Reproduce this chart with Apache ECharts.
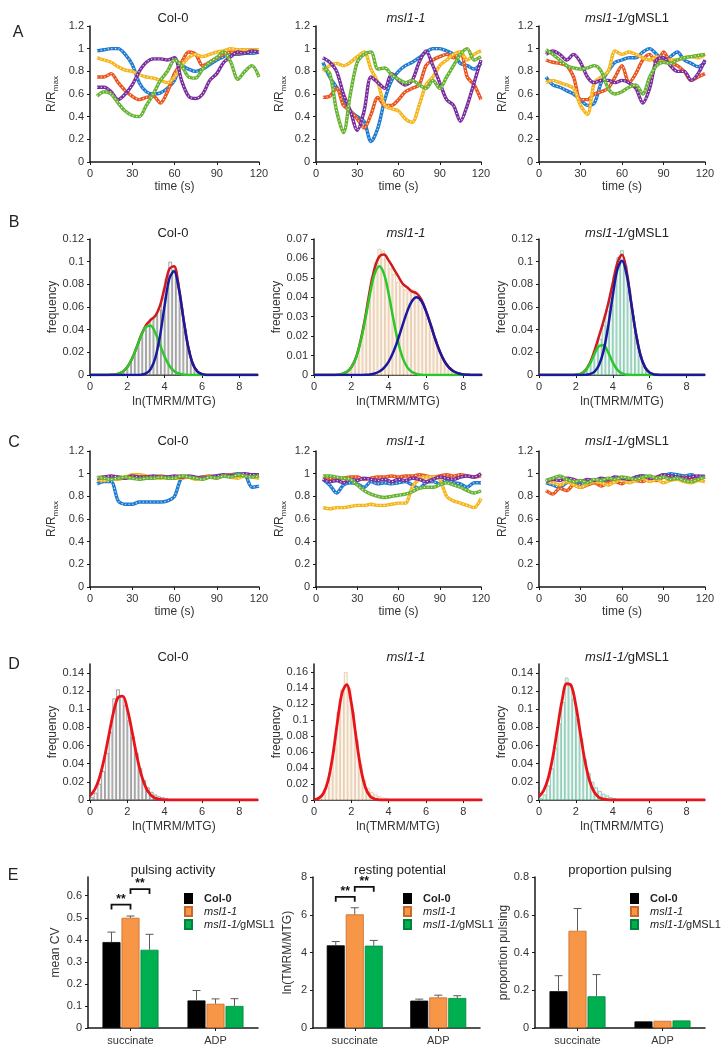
<!DOCTYPE html>
<html><head><meta charset="utf-8">
<script src="https://cdn.jsdelivr.net/npm/echarts@6/dist/echarts.min.js"></script>
<style>html,body{margin:0;padding:0;background:#fff}#c{width:725px;height:1050px}</style>
</head><body><div id="c"></div>
<script>
// ---------------- DATA ----------------
const timeA = [5,10,15,20,25,30,35,40,45,50,55,60,65,70,75,80,85,90,95,100,105,110,115,120];
const traceNames = ['blue','orange','yellow','purple','green'];

// Panel A: succinate traces (R/Rmax)
const aCol0Blue   = [0.98,0.99,1.00,1.00,0.95,0.86,0.70,0.62,0.60,0.61,0.65,0.72,0.85,0.82,0.80,0.82,0.86,0.90,0.93,0.95,0.95,0.96,0.96,0.97];
const aCol0Orange = [0.75,0.75,0.78,0.70,0.63,0.58,0.55,0.57,0.58,0.52,0.62,0.78,0.88,0.97,0.95,0.85,0.88,0.92,0.95,0.97,0.96,0.97,0.98,0.98];
const aCol0Yellow = [0.92,0.90,0.88,0.84,0.81,0.80,0.77,0.75,0.74,0.72,0.70,0.75,0.85,0.92,0.95,0.93,0.95,0.97,0.98,1.00,0.99,0.99,0.99,0.99];
const aCol0Purple = [0.66,0.66,0.62,0.55,0.60,0.68,0.80,0.88,0.91,0.91,0.90,0.92,0.72,0.58,0.56,0.60,0.72,0.78,0.88,0.93,0.97,0.96,0.98,0.97];
const aCol0Green  = [0.58,0.62,0.60,0.52,0.45,0.41,0.40,0.50,0.60,0.72,0.80,0.90,0.85,0.75,0.74,0.82,0.88,0.92,0.97,0.88,0.73,0.80,0.85,0.75];

const aMslBlue   = [0.88,0.75,0.66,0.56,0.45,0.40,0.36,0.18,0.30,0.55,0.72,0.80,0.85,0.88,0.92,0.97,1.00,1.00,0.98,0.95,0.87,0.85,0.82,0.87];
const aMslOrange = [0.57,0.58,0.65,0.50,0.45,0.38,0.30,0.42,0.57,0.50,0.50,0.55,0.62,0.65,0.68,0.85,0.90,0.93,0.95,0.92,0.97,0.75,0.68,0.55];
const aMslYellow = [0.80,0.85,0.87,0.85,0.88,0.93,0.97,0.82,0.70,0.50,0.47,0.45,0.38,0.35,0.50,0.68,0.75,0.85,0.90,0.95,0.97,0.90,0.95,0.98];
const aMslPurple = [0.92,0.88,0.80,0.60,0.45,0.28,0.45,0.75,0.70,0.65,0.78,0.72,0.68,0.72,0.88,0.98,0.85,0.70,0.55,0.50,0.36,0.50,0.70,0.90];
const aMslGreen  = [0.84,0.78,0.45,0.26,0.60,0.88,0.95,0.97,0.82,0.83,0.77,0.73,0.70,0.72,0.68,0.65,0.72,0.65,0.75,0.85,0.95,1.00,0.90,0.93];

const aGBlue   = [0.75,0.68,0.66,0.63,0.60,0.55,0.50,0.52,0.70,0.80,0.88,0.90,0.92,0.92,0.97,1.00,0.95,0.90,0.93,0.97,0.90,0.87,0.84,0.88];
const aGOrange = [0.90,0.88,0.87,0.85,0.75,0.55,0.55,0.60,0.62,0.65,0.75,0.85,0.70,0.78,0.90,0.95,0.87,0.97,0.88,0.85,0.80,0.72,0.75,0.78];
const aGYellow = [0.70,0.72,0.70,0.68,0.65,0.50,0.42,0.70,0.75,0.80,0.98,0.95,0.97,0.95,0.92,0.90,0.93,0.88,0.90,0.90,0.92,0.93,0.92,0.95];
const aGPurple = [0.95,0.98,0.95,0.90,0.95,0.88,0.75,0.70,0.72,0.72,0.70,0.72,0.70,0.65,0.52,0.65,0.90,0.92,0.85,0.80,0.80,0.72,0.78,0.90];
const aGGreen  = [0.99,0.95,0.90,0.85,0.83,0.82,0.83,0.85,0.80,0.65,0.60,0.62,0.66,0.68,0.60,0.75,0.85,0.88,0.87,0.90,0.92,0.93,0.94,0.95];

// Panel C: ADP traces (R/Rmax)
const cCol0Blue   = [0.91,0.93,0.93,0.76,0.73,0.73,0.75,0.75,0.75,0.75,0.76,0.80,0.96,0.97,0.96,0.97,0.97,0.98,0.98,0.99,1.00,0.99,0.88,0.89];
const cCol0Orange = [0.96,0.97,0.96,0.97,0.96,0.97,0.98,0.97,0.97,0.98,0.97,0.97,0.98,0.97,0.96,0.97,0.98,0.97,0.98,0.99,0.98,0.99,0.98,0.98];
const cCol0Yellow = [0.95,0.94,0.96,0.95,0.97,0.99,0.99,0.98,0.97,0.96,0.97,0.96,0.96,0.97,0.95,0.96,0.97,0.96,0.98,0.97,0.96,0.98,0.97,0.96];
const cCol0Purple = [0.96,0.97,0.98,0.97,0.96,0.98,0.97,0.97,0.98,0.97,0.97,0.98,0.97,0.98,0.97,0.96,0.97,0.98,0.99,0.98,0.99,1.00,0.99,0.99];
const cCol0Green  = [0.97,0.96,0.95,0.96,0.97,0.96,0.95,0.96,0.96,0.97,0.96,0.96,0.98,0.97,0.96,0.95,0.97,0.96,0.98,0.97,0.99,0.98,0.97,0.98];

const cMslBlue   = [0.95,0.90,0.83,0.90,0.92,0.91,0.88,0.93,0.91,0.92,0.91,0.92,0.93,0.90,0.87,0.92,0.93,0.91,0.95,0.92,0.91,0.88,0.92,0.92];
const cMslOrange = [0.97,0.96,0.95,0.96,0.97,0.97,0.95,0.96,0.97,0.97,0.98,0.97,0.98,0.98,0.99,0.98,0.97,0.98,0.99,0.98,0.99,0.98,0.97,0.98];
const cMslYellow = [0.70,0.69,0.70,0.70,0.71,0.72,0.72,0.73,0.72,0.72,0.73,0.74,0.74,0.88,0.95,0.97,0.97,0.95,0.80,0.76,0.74,0.72,0.70,0.78];
const cMslPurple = [0.95,0.93,0.94,0.92,0.95,0.94,0.96,0.95,0.94,0.95,0.93,0.95,0.94,0.96,0.95,0.93,0.95,0.97,0.96,0.95,0.97,0.98,0.97,1.00];
const cMslGreen  = [0.98,0.98,0.97,0.96,0.95,0.90,0.85,0.82,0.80,0.79,0.80,0.81,0.82,0.84,0.87,0.88,0.88,0.90,0.92,0.90,0.88,0.85,0.83,0.85];

const cGBlue   = [0.92,0.90,0.88,0.92,0.93,0.90,0.94,0.93,0.92,0.95,0.96,0.95,0.94,0.97,0.98,0.97,0.96,0.98,1.00,0.99,0.98,0.99,0.97,0.98];
const cGOrange = [0.85,0.82,0.87,0.85,0.90,0.88,0.90,0.92,0.89,0.92,0.93,0.91,0.95,0.94,0.93,0.96,0.94,0.97,0.98,0.96,0.97,0.95,0.96,0.97];
const cGYellow = [0.93,0.92,0.90,0.93,0.90,0.88,0.91,0.93,0.92,0.90,0.93,0.95,0.92,0.94,0.96,0.93,0.95,0.92,0.94,0.95,0.93,0.92,0.94,0.93];
const cGPurple = [0.93,0.95,0.94,0.96,0.95,0.93,0.95,0.94,0.96,0.95,0.97,0.96,0.95,0.97,0.98,0.96,0.97,0.99,0.98,0.97,0.96,0.97,0.98,0.97];
const cGGreen  = [0.94,0.96,0.98,0.95,0.93,0.94,0.92,0.95,0.94,0.96,0.95,0.97,0.96,0.95,0.97,0.98,0.96,0.97,0.95,0.96,0.94,0.93,0.95,0.97];

// Histograms (bin centres, frequency)
const bBins = [0.1,0.3,0.5,0.7,0.9,1.1,1.3,1.5,1.7,1.9,2.1,2.3,2.5,2.7,2.9,3.1,3.3,3.5,3.7,3.9,4.1,4.3,4.5,4.7,4.9,5.1,5.3,5.5,5.7,5.9,6.1,6.3,6.5,6.7,6.9,7.1,7.3,7.5,7.7,7.9,8.1,8.3,8.5,8.7,8.9];
const bCol0Hist = [0,0,0,0,0,0,0.001,0.002,0.003,0.005,0.009,0.016,0.024,0.033,0.040,0.046,0.050,0.053,0.058,0.068,0.085,0.100,0.093,0.082,0.060,0.040,0.022,0.010,0.005,0.002,0.001,0,0,0,0,0,0,0,0,0,0,0,0,0,0];
const bMslHist  = [0,0,0,0,0,0,0.0005,0.001,0.002,0.003,0.006,0.010,0.016,0.026,0.038,0.050,0.058,0.065,0.064,0.060,0.055,0.052,0.048,0.046,0.044,0.043,0.044,0.042,0.039,0.035,0.030,0.025,0.019,0.013,0.009,0.006,0.004,0.002,0.001,0.0005,0,0,0,0,0];
const bGHist    = [0,0,0,0,0,0,0,0,0,0,0.001,0.002,0.004,0.009,0.015,0.023,0.032,0.044,0.057,0.072,0.088,0.104,0.110,0.097,0.075,0.052,0.032,0.017,0.008,0.003,0.001,0,0,0,0,0,0,0,0,0,0,0,0,0,0];

// Fitted curves, sampled on curveX
const curveX = [0,0.25,0.5,0.75,1,1.25,1.5,1.75,2,2.25,2.5,2.75,3,3.25,3.5,3.75,4,4.25,4.5,4.75,5,5.25,5.5,5.75,6,6.25,6.5,6.75,7,7.25,7.5,7.75,8,8.25,8.5,8.75,9];
const bCol0Red   = [0,0,0,0,0.0001,0.0003,0.001,0.0029,0.007,0.0143,0.0245,0.0355,0.044,0.0486,0.0522,0.0612,0.0775,0.0935,0.096,0.0782,0.0506,0.0257,0.0101,0.0031,0.0008,0.0001,0,0,0,0,0,0,0,0,0,0,0];
const bCol0Green = [0,0,0,0,0.0001,0.0003,0.001,0.0029,0.007,0.0143,0.0245,0.0352,0.0426,0.0434,0.0371,0.0267,0.0161,0.0082,0.0035,0.0013,0.0004,0.0001,0,0,0,0,0,0,0,0,0,0,0,0,0,0,0];
const bCol0Blue  = [0,0,0,0,0,0,0,0,0,0,0,0.0003,0.0014,0.0052,0.0151,0.0345,0.0614,0.0849,0.0915,0.0769,0.0502,0.0256,0.0101,0.0031,0.0008,0.0001,0,0,0,0,0,0,0,0,0,0,0];
const bMslRed    = [0,0,0,0,0,0.0001,0.0005,0.0015,0.004,0.009,0.018,0.030,0.044,0.055,0.061,0.062,0.059,0.055,0.051,0.047,0.045,0.043,0.042,0.039,0.033,0.026,0.0183,0.0118,0.0069,0.0037,0.0018,0.0008,0.0003,0.0001,0,0,0];
const bMslGreen  = [0,0,0,0,0,0.0001,0.0005,0.0015,0.0039,0.0088,0.0172,0.0288,0.0417,0.052,0.056,0.052,0.0417,0.0288,0.0172,0.0088,0.0039,0.0015,0.0005,0.0001,0,0,0,0,0,0,0,0,0,0,0,0,0];
const bMslBlue   = [0,0,0,0,0,0,0,0,0,0,0,0.0001,0.0003,0.0008,0.0018,0.0037,0.0069,0.0118,0.0183,0.0258,0.0329,0.0381,0.040,0.0381,0.0329,0.0258,0.0183,0.0118,0.0069,0.0037,0.0018,0.0008,0.0003,0.0001,0,0,0];
const bGRed      = [0,0,0,0,0,0,0,0,0.0002,0.001,0.0039,0.0103,0.021,0.0341,0.0476,0.0629,0.0812,0.099,0.106,0.092,0.0636,0.037,0.0175,0.0067,0.0021,0.0005,0.0001,0,0,0,0,0,0,0,0,0,0];
const bGGreen    = [0,0,0,0,0,0,0,0,0.0002,0.001,0.0037,0.0095,0.0182,0.0255,0.0263,0.020,0.0111,0.0045,0.0014,0.0003,0.0001,0,0,0,0,0,0,0,0,0,0,0,0,0,0,0,0];
const bGBlue     = [0,0,0,0,0,0,0,0,0,0,0.0002,0.0008,0.0028,0.0086,0.0213,0.0429,0.0701,0.0932,0.1008,0.0887,0.0635,0.037,0.0175,0.0067,0.0021,0.0005,0.0001,0,0,0,0,0,0,0,0,0,0];

const dBins = [0.1,0.3,0.5,0.7,0.9,1.1,1.3,1.5,1.7,1.9,2.1,2.3,2.5,2.7,2.9,3.1,3.3,3.5,3.7,3.9,4.1,4.3];
const dCol0Hist = [0.003,0.008,0.018,0.032,0.052,0.075,0.112,0.122,0.115,0.105,0.088,0.070,0.052,0.035,0.022,0.014,0.009,0.006,0.004,0.003,0.002,0.001];
const dMslHist  = [0.001,0.003,0.007,0.018,0.035,0.065,0.110,0.138,0.160,0.140,0.110,0.075,0.045,0.025,0.015,0.010,0.007,0.005,0.003,0.002,0.001,0];
const dGHist    = [0.002,0.006,0.016,0.035,0.058,0.085,0.108,0.135,0.128,0.112,0.090,0.068,0.045,0.030,0.020,0.014,0.010,0.007,0.005,0.003,0.002,0.001];
const dCol0Red = [0.0046,0.0114,0.0242,0.0445,0.0704,0.096,0.113,0.1146,0.1003,0.0758,0.0493,0.0277,0.0134,0.0056,0.002,0.0006,0.0002,0,0,0,0,0,0,0,0,0,0,0,0,0,0,0,0,0,0,0,0];
const dMslRed  = [0.0004,0.0022,0.0081,0.0239,0.0544,0.0967,0.1338,0.1443,0.1211,0.0792,0.0403,0.016,0.0049,0.0012,0.0002,0,0,0,0,0,0,0,0,0,0,0,0,0,0,0,0,0,0,0,0,0,0];
const dGRed    = [0.0037,0.0103,0.0242,0.0477,0.0788,0.1097,0.1282,0.126,0.1041,0.0723,0.0422,0.0207,0.0085,0.003,0.0009,0.0002,0,0,0,0,0,0,0,0,0,0,0,0,0,0,0,0,0,0,0,0,0];

// Panel E: bar summaries
const eGroups = ['succinate','ADP'];
const genotypes = ['Col-0','msl1-1','msl1-1/gMSL1'];
const pulsingMean = [[0.39,0.125],[0.50,0.11],[0.355,0.10]];
const pulsingErr  = [[0.045,0.045],[0.008,0.022],[0.07,0.033]];
const restingMean = [[4.38,1.45],[6.02,1.62],[4.36,1.59]];
const restingErr  = [[0.2,0.08],[0.35,0.12],[0.28,0.12]];
const propMean    = [[0.195,0.035],[0.515,0.038],[0.168,0.04]];
const propErr     = [[0.082,0],[0.118,0],[0.115,0]];
const pulsingSig  = [[0,0,1,0.56],[0,1,2,0.63]];   // [group, fromBar, toBar, level]
const restingSig  = [[0,0,1,6.95],[0,1,2,7.48]];

// ---------------- STYLE ----------------
const FONT = '"Liberation Sans", Arial, sans-serif';
const traceColors = {blue:'#1f7bd0', orange:'#e9541f', yellow:'#f5b51d', purple:'#7a2e9d', green:'#67b332'};
const barFill = ['#000000','#f79646','#00b050'];
const barBorder = ['#000000','#c8692c','#00813c'];
const barOffsets = [-19, 0, 19];

const grids = [], xAxes = [], yAxes = [], series = [], graphics = [], legends = [];
const axisLine = {show:true, onZero:false, lineStyle:{color:'#1a1a1a', width:1.5}};
const axisTick = {show:true, length:3, lineStyle:{color:'#1a1a1a', width:1}};
const lbl = {color:'#333', fontSize:11, fontFamily:FONT, margin:6};
const nameStyle = {color:'#333', fontSize:12, fontFamily:FONT};
const rRich = {rich:{a:{fontSize:12, color:'#333', fontFamily:FONT, lineHeight:16, verticalAlign:'middle'},
                     s:{fontSize:8, color:'#333', fontFamily:FONT, lineHeight:8, verticalAlign:'bottom'}}};

function addGrid(left, top, width, height){ grids.push({left, top, width, height}); return grids.length - 1; }

function titleText(x, y, kind, size){
  size = size || 13;
  let text;
  if (kind === 'Col-0') text = '{n|Col-0}';
  else if (kind === 'msl1-1') text = '{i|msl1-1}';
  else if (kind === 'msl1-1/gMSL1') text = '{i|msl1-1/}{n|gMSL1}';
  else text = '{n|' + kind + '}';
  graphics.push({type:'text', x, y, z:100, style:{text, align:'center', verticalAlign:'middle',
    rich:{n:{fontSize:size, fontFamily:FONT, fill:'#222'}, i:{fontSize:size, fontFamily:FONT, fontStyle:'italic', fill:'#222'}}}});
}
function letter(ch, x, y){
  graphics.push({type:'text', x, y, z:100, style:{text:ch, align:'center', verticalAlign:'middle', font:'16px ' + FONT, fill:'#222'}});
}

const cols = [90, 316, 539];
const colW = [169, 165, 166];
const histCols = [90, 314, 539];
const histW = [168, 168, 166];
const titleX = [173, 406, 627];

// ---- Trace panels (A and C) ----
function tracePanel(top, col, lines, title, titleY){
  const gi = addGrid(cols[col], top, colW[col], 136);
  xAxes.push({type:'value', gridIndex:gi, min:0, max:120, interval:30, axisLine, axisTick, axisLabel:lbl, splitLine:{show:false},
    name:'time (s)', nameLocation:'middle', nameGap:19, nameTextStyle:nameStyle});
  yAxes.push({type:'value', gridIndex:gi, min:0, max:1.2, interval:0.2, axisLine, axisTick, axisLabel:lbl, splitLine:{show:false},
    name:'{a|R/R}{s|max}', nameLocation:'middle', nameGap:col === 0 ? 30 : 28, nameTextStyle:rRich});
  lines.forEach((vals, k) => {
    const data = timeA.map((t, i) => [t, vals[i]]);
    const color = traceColors[traceNames[k]];
    series.push({type:'line', xAxisIndex:gi, yAxisIndex:gi, data, smooth:0.3, symbol:'none', silent:true,
      lineStyle:{color, width:3.4}, z:2});
    series.push({type:'line', xAxisIndex:gi, yAxisIndex:gi, data, smooth:0.3, symbol:'none', silent:true,
      lineStyle:{color:'rgba(255,255,255,0.85)', width:1.1, type:[1.2,2.4]}, z:2});
  });
  titleText(titleX[col], titleY, title);
}

tracePanel(26, 0, [aCol0Blue,aCol0Orange,aCol0Yellow,aCol0Purple,aCol0Green], 'Col-0', 18);
tracePanel(26, 1, [aMslBlue,aMslOrange,aMslYellow,aMslPurple,aMslGreen], 'msl1-1', 18);
tracePanel(26, 2, [aGBlue,aGOrange,aGYellow,aGPurple,aGGreen], 'msl1-1/gMSL1', 18);
tracePanel(451, 0, [cCol0Blue,cCol0Orange,cCol0Yellow,cCol0Purple,cCol0Green], 'Col-0', 441);
tracePanel(451, 1, [cMslBlue,cMslOrange,cMslYellow,cMslPurple,cMslGreen], 'msl1-1', 441);
tracePanel(451, 2, [cGBlue,cGOrange,cGYellow,cGPurple,cGGreen], 'msl1-1/gMSL1', 441);

// ---- Histogram panels (B and D) ----
const histStyles = [
  {fill:'#f8f8f8', border:'#8a8a8a'},
  {fill:'#fdf6ee', border:'#e3c6a4'},
  {fill:'#eef8f4', border:'#7cc3a9'}
];
function histPanel(top, col, bins, hist, curves, ymax, interval, title, titleY){
  const gi = addGrid(histCols[col], top, histW[col], 136);
  xAxes.push({type:'value', gridIndex:gi, min:0, max:9, interval:2, axisLine, axisTick,
    axisLabel:Object.assign({}, lbl, {showMaxLabel:false}), splitLine:{show:false},
    name:'ln(TMRM/MTG)', nameLocation:'middle', nameGap:21, nameTextStyle:nameStyle});
  yAxes.push({type:'value', gridIndex:gi, min:0, max:ymax, interval, axisLine, axisTick,
    axisLabel:Object.assign({}, lbl, {showMaxLabel: Math.abs(ymax / interval - Math.round(ymax / interval)) < 1e-6}), splitLine:{show:false},
    name:'frequency', nameLocation:'middle', nameGap:30, nameTextStyle:nameStyle});
  const st = histStyles[col];
  series.push({type:'bar', xAxisIndex:gi, yAxisIndex:gi, data:bins.map((b, i) => [b, hist[i]]), barWidth:3.7, silent:true,
    itemStyle:{color:st.fill, borderColor:st.border, borderWidth:0.8}, z:1});
  curves.forEach(c => {
    series.push({type:'line', xAxisIndex:gi, yAxisIndex:gi, data:curveX.map((x, i) => [x, c.v[i]]), smooth:0.35, symbol:'none', silent:true,
      lineStyle:{color:c.color, width:c.w || 2.5}, z:3});
  });
  titleText(titleX[col], titleY, title);
}
const RED = '#cf1a1f', GREEN = '#2bc82b', BLUE = '#1a1a9e', DRED = '#e8141a';
histPanel(239, 0, bBins, bCol0Hist, [{v:bCol0Red,color:RED},{v:bCol0Green,color:GREEN},{v:bCol0Blue,color:BLUE}], 0.12, 0.02, 'Col-0', 233);
histPanel(239, 1, bBins, bMslHist, [{v:bMslRed,color:RED},{v:bMslGreen,color:GREEN},{v:bMslBlue,color:BLUE}], 0.07, 0.01, 'msl1-1', 233);
histPanel(239, 2, bBins, bGHist, [{v:bGRed,color:RED},{v:bGGreen,color:GREEN},{v:bGBlue,color:BLUE}], 0.12, 0.02, 'msl1-1/gMSL1', 233);
histPanel(664, 0, dBins, dCol0Hist, [{v:dCol0Red,color:DRED,w:2.8}], 0.15, 0.02, 'Col-0', 657);
histPanel(664, 1, dBins, dMslHist, [{v:dMslRed,color:DRED,w:2.8}], 0.17, 0.02, 'msl1-1', 657);
histPanel(664, 2, dBins, dGHist, [{v:dGRed,color:DRED,w:2.8}], 0.15, 0.02, 'msl1-1/gMSL1', 657);

// ---- Bar panels (E) ----
function errRender(offset){
  return function(params, api){
    const e = api.value(2);
    if (!(e > 0)) return null;
    const b = api.coord([api.value(0), api.value(1)]);
    const t = api.coord([api.value(0), api.value(1) + e]);
    const x = b[0] + offset;
    return {type:'group', children:[
      {type:'line', shape:{x1:x, y1:b[1], x2:x, y2:t[1]}, style:{stroke:'#5a5a5a', lineWidth:1}},
      {type:'line', shape:{x1:x - 4, y1:t[1], x2:x + 4, y2:t[1]}, style:{stroke:'#5a5a5a', lineWidth:1}}
    ]};
  };
}
function bracketRender(params, api){
  const p = api.coord([api.value(0), api.value(3)]);
  const x1 = p[0] + barOffsets[api.value(1)], x2 = p[0] + barOffsets[api.value(2)];
  return {type:'group', children:[
    {type:'polyline', shape:{points:[[x1, p[1] + 5], [x1, p[1]], [x2, p[1]], [x2, p[1] + 5]]}, style:{stroke:'#111', lineWidth:1.8, fill:null}},
    {type:'text', style:{text:'**', x:(x1 + x2) / 2, y:p[1] + 1, align:'center', verticalAlign:'bottom', font:'bold 12px ' + FONT, fill:'#111'}}
  ]};
}
function barPanel(left, width, top, height, ymax, interval, yName, nameGap, means, errs, sig, title, tx, legendLeft){
  const gi = addGrid(left, top, width, height);
  xAxes.push({type:'category', gridIndex:gi, data:eGroups, axisLine, axisTick:Object.assign({}, axisTick, {alignWithLabel:true}),
    axisLabel:Object.assign({}, lbl, {margin:7}), splitLine:{show:false}});
  yAxes.push({type:'value', gridIndex:gi, min:0, max:ymax, interval, axisLine, axisTick,
    axisLabel:Object.assign({}, lbl, {showMaxLabel: Math.abs(ymax / interval - Math.round(ymax / interval)) < 1e-6}), splitLine:{show:false},
    name:yName, nameLocation:'middle', nameGap, nameTextStyle:nameStyle});
  genotypes.forEach((g, k) => {
    series.push({type:'bar', name:g, xAxisIndex:gi, yAxisIndex:gi, data:means[k], barWidth:18, barGap:'5.6%', barCategoryGap:'30%',
      itemStyle:{color:barFill[k], borderColor:barBorder[k], borderWidth:0.8}, silent:true, z:2});
  });
  genotypes.forEach((g, k) => {
    series.push({type:'custom', name:'err' + k, xAxisIndex:gi, yAxisIndex:gi, renderItem:errRender(barOffsets[k]),
      data:means[k].map((m, i) => [i, m, errs[k][i]]), silent:true, z:3});
  });
  if (sig.length) series.push({type:'custom', name:'sig', xAxisIndex:gi, yAxisIndex:gi, renderItem:bracketRender, data:sig, silent:true, z:4});
  titleText(tx, 870, title, 13);
  legends.push({data:genotypes, orient:'vertical', left:legendLeft, top:893, itemWidth:7, itemHeight:9, itemGap:2, icon:'rect',
    selectedMode:false, padding:0,
    formatter: n => n === 'Col-0' ? '{b|Col-0}' : (n === 'msl1-1' ? '{i|msl1-1}' : '{i|msl1-1/}{n|gMSL1}'),
    textStyle:{fontSize:11, color:'#222', padding:[0,0,0,7], rich:{
      b:{fontSize:11, fontWeight:'bold', fontFamily:FONT, color:'#222'},
      i:{fontSize:11, fontStyle:'italic', fontFamily:FONT, color:'#222'},
      n:{fontSize:11, fontFamily:FONT, color:'#222'}}}});
}
barPanel(88, 170, 877, 151, 0.685, 0.1, 'mean CV', 26, pulsingMean, pulsingErr, pulsingSig, 'pulsing activity', 173, 184);
barPanel(313, 167, 877, 151, 8, 2, 'ln(TMRM/MTG)', 19, restingMean, restingErr, restingSig, 'resting potential', 400, 403);
barPanel(535, 170, 877, 151, 0.8, 0.2, 'proportion pulsing', 24, propMean, propErr, [], 'proportion pulsing', 620, 630);

letter('A', 18, 33); letter('B', 14, 223); letter('C', 14, 443); letter('D', 14, 665); letter('E', 13, 876);

const chart = echarts.init(document.getElementById('c'), null, {renderer:'canvas'});
chart.setOption({animation:false, backgroundColor:'#fff', textStyle:{fontFamily:FONT},
  grid:grids, xAxis:xAxes, yAxis:yAxes, series, legend:legends, graphic:graphics});
</script></body></html>
